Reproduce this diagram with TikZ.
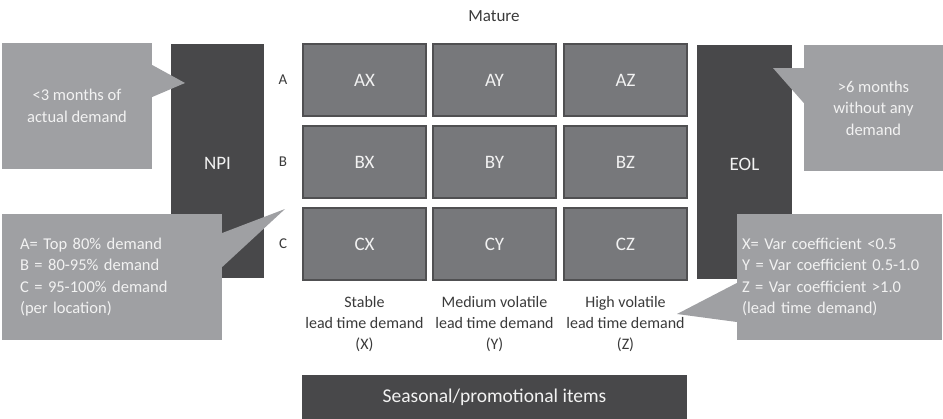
\documentclass[tikz,border=0pt]{standalone}
\usepackage{fontspec}
\setmainfont{Carlito}
\usepackage{tikz}
\usetikzlibrary{positioning}
\definecolor{segDark}{RGB}{72,72,74}
\definecolor{segCell}{RGB}{119,120,123}
\definecolor{segEdge}{RGB}{80,80,82}
\definecolor{segNote}{RGB}{159,160,163}
\definecolor{segText}{RGB}{58,58,58}
\definecolor{segLight}{RGB}{242,242,242}

\tikzset{
  cell/.style={draw=segEdge, line width=1.2pt, fill=segCell, text=segLight,
    minimum width=123, minimum height=72, inner sep=0pt, font=\fontsize{19}{22}\selectfont},
  phase/.style={fill=segDark, text=segLight, inner sep=0pt, font=\fontsize{19}{22}\selectfont},
  note/.style={fill=segNote, text=segLight, inner sep=0pt, font=\fontsize{16.5}{21.5}\selectfont},
  lbl/.style={text=segText, font=\fontsize{16}{21}\selectfont, align=center}
}

\begin{document}
\begin{tikzpicture}[x=1pt, y=-1pt]

\useasboundingbox (0,0) rectangle (943,418);

% Title
\node[lbl, font=\fontsize{17}{21}\selectfont] (mature) at (494,16) {Mature};

% Phase boxes
\node[phase, minimum width=93, minimum height=234] (npi) at (217.5,161) {};
\node[text=segLight, font=\fontsize{19}{22}\selectfont] (npilab) at (217.5,163) {NPI};
\node[phase, minimum width=95, minimum height=234] (eol) at (744.5,162) {};
\node[text=segLight, font=\fontsize{19}{22}\selectfont] (eollab) at (744.5,164) {EOL};

% ABC x XYZ grid
\foreach \r/\y in {A/80,B/162,C/244}{
  \node[lbl, font=\fontsize{15}{18}\selectfont] (row\r) at (283,\y) {\r};
  \foreach \c/\x in {X/364.5,Y/494.5,Z/625.5}
    \node[cell] (\r\c) at (\x,\y) {\r\c};
}

% Column labels
\node[lbl] (colX) at (364.5,324) {Stable\\lead time demand\\(X)};
\node[lbl] (colY) at (494.5,324) {Medium volatile\\lead time demand\\(Y)};
\node[lbl] (colZ) at (625.5,324) {High volatile\\lead time demand\\(Z)};

% Seasonal bar
\node[phase, minimum width=385, minimum height=44, font=\fontsize{19.5}{22}\selectfont]
  (season) at (494.5,397) {Seasonal/promotional items};

% Callouts
\node[note, minimum width=150, minimum height=126, align=center] (npinote) at (77,106)
  {<3 months of\\actual demand};
\coordinate (npitip) at (185,83);
\fill[segNote] (npinote.east |- 0,65) -- (npitip) -- (npinote.east |- 0,97) -- cycle;

\node[note, minimum width=139, minimum height=126, align=center] (eolnote) at (873.5,108)
  {>6 months\\without any\\demand};
\coordinate (eoltip) at (773,68);
\fill[segNote] (eolnote.west |- 0,68) -- (eoltip) -- (eolnote.west |- 0,103) -- cycle;

\node[note, text width=184, inner xsep=18, minimum height=126, align=left] (abcnote) at (112,277)
  {A= Top 80\% demand\\B = 80-95\% demand\\C = 95-100\% demand\\(per location)};
\coordinate (abctip) at (285,209);
\fill[segNote] (abcnote.east |- 0,233) -- (abctip) -- (abcnote.east |- 0,267) -- cycle;

\node[note, text width=195, inner xsep=5, minimum height=126, align=left] (xyznote) at (839.5,277)
  {X= Var coefficient <0.5\\Y = Var coefficient 0.5-1.0\\Z = Var coefficient >1.0\\(lead time demand)};
\coordinate (xyztip) at (677,314);
\fill[segNote] (xyznote.west |- 0,283) -- (xyztip) -- (xyznote.west |- 0,322) -- cycle;

\end{tikzpicture}
\end{document}
